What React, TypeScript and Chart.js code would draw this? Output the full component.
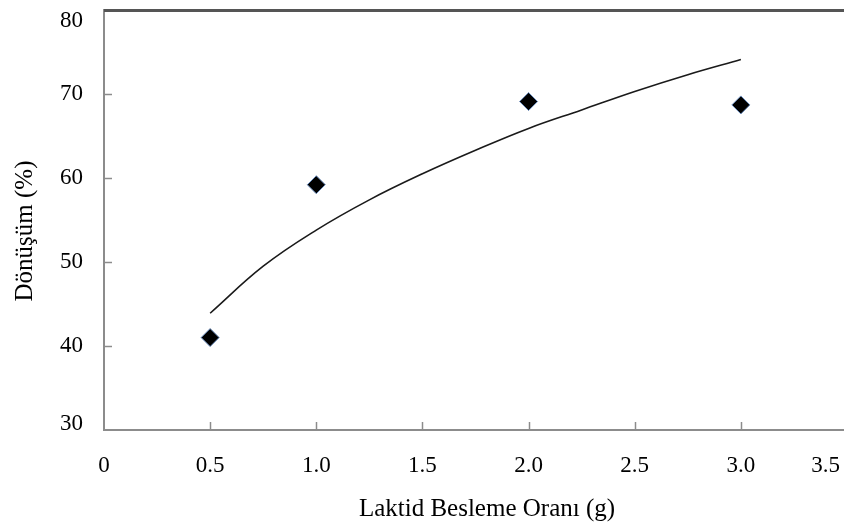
import React, { useEffect, useRef } from "react";
import { Chart, registerables } from "chart.js";

Chart.register(...registerables);

// Observed data (diamonds)
const doseX: number[] = [0.5, 1.0, 2.0, 3.0];
const conversionY: number[] = [41.0, 59.2, 69.1, 68.7];

// Trend curve, values
const trendX: number[] = [0.5, 0.75, 1.0, 1.25, 1.5, 1.75, 2.0, 2.25, 2.5, 2.75, 3.0];
const trendY: number[] = [43.9, 49.5, 53.8, 57.4, 60.5, 63.3, 65.9, 68.1, 70.3, 72.3, 74.1];

// Axis tick labels
const xTickValues: number[] = [0, 0.5, 1.0, 1.5, 2.0, 2.5, 3.0, 3.5];
const xTickLabels: string[] = ["0", "0.5", "1.0", "1.5", "2.0", "2.5", "3.0", "3.5"];
const yTickValues: number[] = [30, 40, 50, 60, 70, 80];
const yTickLabels: string[] = ["30", "40", "50", "60", "70", "80"];

const xTitle = "Laktid Besleme Oranı (g)";
const yTitle = "Dönüşüm (%)";

const FONT = '"Liberation Serif", "Times New Roman", serif';
const VIEW_W = 844;
const VIEW_H = 526;

const decorPlugin = {
  id: "excelDecor",
  afterDraw(chart: any) {
    const ctx = chart.ctx as CanvasRenderingContext2D;
    const area = chart.chartArea;
    const xs = chart.scales.x;
    const ys = chart.scales.y;
    ctx.save();

    // top frame line
    ctx.strokeStyle = "#555555";
    ctx.lineWidth = 3;
    ctx.beginPath();
    ctx.moveTo(area.left, area.top + 0.5);
    ctx.lineTo(area.right, area.top + 0.5);
    ctx.stroke();

    // inside tick marks
    ctx.strokeStyle = "#8c8c8c";
    ctx.lineWidth = 1.5;
    yTickValues.forEach((v) => {
      if (v === ys.min || v === ys.max) return;
      const y = Math.round(ys.getPixelForValue(v)) + 0.5;
      ctx.beginPath();
      ctx.moveTo(area.left, y);
      ctx.lineTo(area.left + 8, y);
      ctx.stroke();
    });
    xTickValues.forEach((v) => {
      if (v === xs.min) return;
      const x = Math.round(xs.getPixelForValue(v)) + 0.5;
      ctx.beginPath();
      ctx.moveTo(x, area.bottom);
      ctx.lineTo(x, area.bottom - 8);
      ctx.stroke();
    });

    // tick labels
    ctx.fillStyle = "#000000";
    ctx.font = `23px ${FONT}`;
    ctx.textBaseline = "middle";
    ctx.textAlign = "right";
    yTickValues.forEach((v, i) => {
      let y = ys.getPixelForValue(v);
      y = Math.max(area.top + 11, Math.min(area.bottom - 6, y));
      ctx.fillText(yTickLabels[i], area.left - 21, y);
    });
    ctx.textAlign = "center";
    xTickValues.forEach((v, i) => {
      let x = xs.getPixelForValue(v);
      const w = ctx.measureText(xTickLabels[i]).width;
      x = Math.min(VIEW_W - 4 - w / 2, x);
      ctx.fillText(xTickLabels[i], x, area.bottom + 36);
    });

    // axis titles
    ctx.font = `25px ${FONT}`;
    ctx.fillText(xTitle, 487, 509);
    ctx.save();
    ctx.translate(25, 231);
    ctx.rotate(-Math.PI / 2);
    ctx.fillText(yTitle, 0, 0);
    ctx.restore();

    ctx.restore();
  },
};

export default function App() {
  const canvasRef = useRef<HTMLCanvasElement | null>(null);

  useEffect(() => {
    const canvas = canvasRef.current;
    if (!canvas) return;
    const chart = new Chart(canvas, {
      type: "scatter",
      data: {
        datasets: [
          {
            type: "line",
            label: "Trend",
            data: trendX.map((x, i) => ({ x, y: trendY[i] })),
            borderColor: "#1a1a1a",
            borderWidth: 1.6,
            pointRadius: 0,
            fill: false,
            tension: 0.4,
            order: 2,
          } as any,
          {
            type: "scatter",
            label: "Dönüşüm",
            data: doseX.map((x, i) => ({ x, y: conversionY[i] })),
            pointStyle: "rectRot",
            pointRadius: 9,
            backgroundColor: "#000000",
            borderColor: "#6a8cbc",
            borderWidth: 1,
            order: 1,
          },
        ],
      },
      options: {
        animation: false,
        responsive: false,
        devicePixelRatio: 1,
        layout: { padding: { left: 0, top: 5, right: 0, bottom: 0 } },
        plugins: {
          legend: { display: false },
          tooltip: { enabled: false },
        },
        scales: {
          x: {
            type: "linear",
            min: 0,
            max: 3.5,
            grid: { display: false, drawTicks: false },
            border: { display: true, color: "#8c8c8c", width: 2 },
            ticks: { display: false, stepSize: 0.5 },
            afterFit: (scale: any) => {
              scale.height = VIEW_H - 430;
            },
          },
          y: {
            type: "linear",
            min: 30,
            max: 80,
            grid: { display: false, drawTicks: false },
            border: { display: true, color: "#8c8c8c", width: 2 },
            ticks: { display: false, stepSize: 10 },
            afterFit: (scale: any) => {
              scale.width = 104;
            },
          },
        },
      },
      plugins: [decorPlugin],
    });
    return () => chart.destroy();
  }, []);

  return (
    <div
      style={{
        position: "absolute",
        left: 0,
        top: 0,
        width: VIEW_W,
        height: VIEW_H,
        overflow: "hidden",
        background: "#ffffff",
      }}
    >
      <canvas ref={canvasRef} width={857} height={VIEW_H} style={{ display: "block" }} />
    </div>
  );
}
